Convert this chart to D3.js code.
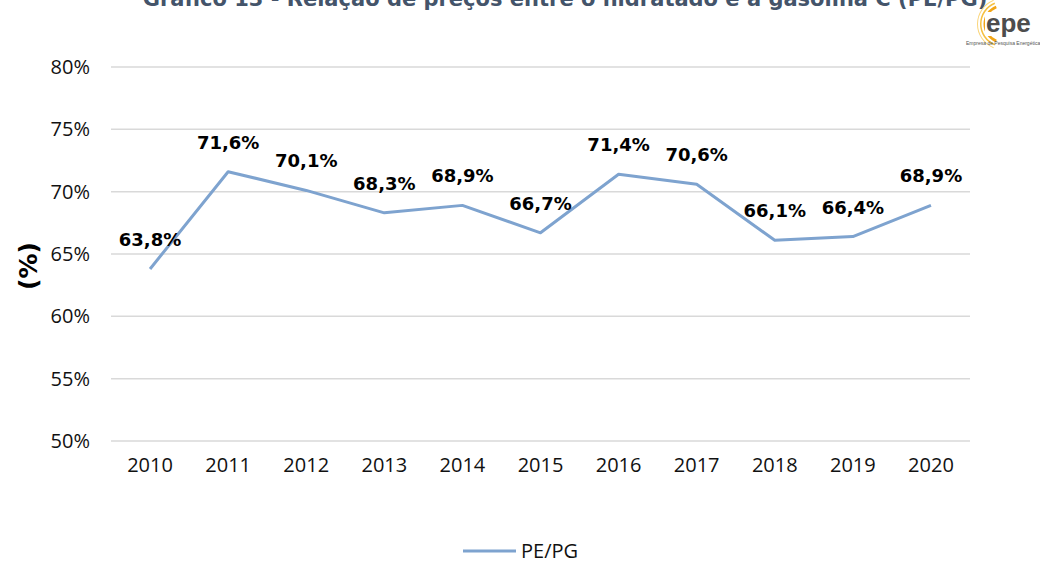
<!DOCTYPE html>
<html>
<head>
<meta charset="utf-8">
<script src="https://cdn.jsdelivr.net/npm/d3@7"></script>
<style>
  html, body { margin: 0; padding: 0; background: #fff; }
  svg { display: block; }
</style>
</head>
<body>
<svg id="chart" width="1040" height="563"></svg>
<script>
const years = ["2010", "2011", "2012", "2013", "2014", "2015", "2016", "2017", "2018", "2019", "2020"];
const pePg = [63.8, 71.6, 70.1, 68.3, 68.9, 66.7, 71.4, 70.6, 66.1, 66.4, 68.9];
const yTicks = [50, 55, 60, 65, 70, 75, 80];
const seriesName = "PE/PG";
const title = "Gráfico 13 - Relação de preços entre o hidratado e a gasolina C (PE/PG)";

const svg = d3.select("#chart");
const margin = { top: 67, right: 70, bottom: 122, left: 111 };
const width = 1040, height = 563;
const w = width - margin.left - margin.right;
const h = height - margin.top - margin.bottom;

const x = d3.scaleBand().domain(years).range([0, w]);
const y = d3.scaleLinear().domain([50, 80]).range([h, 0]);
const lineColor = "#7ea3cf";
const font = "'Open Sans', sans-serif";
const boldFont = "'DejaVu Sans', Verdana, sans-serif";

// title (clipped at top as in the original)
svg.append("text")
  .attr("x", 565).attr("y", 6)
  .attr("text-anchor", "middle")
  .attr("font-family", boldFont)
  .attr("font-weight", "bold")
  .attr("font-size", 21)
  .attr("fill", "#44546a")
  .text(title);

const g = svg.append("g").attr("transform", `translate(${margin.left},${margin.top})`);

// gridlines
g.append("g")
  .selectAll("line")
  .data(yTicks)
  .join("line")
  .attr("x1", 0).attr("x2", w)
  .attr("y1", d => y(d)).attr("y2", d => y(d))
  .attr("stroke", "#d9d9d9")
  .attr("stroke-width", 1.5);

// y axis labels
const yAxis = g.append("g")
  .call(d3.axisLeft(y).tickValues(yTicks).tickSize(0).tickPadding(21).tickFormat(d => d + "%"));
yAxis.select(".domain").remove();
yAxis.selectAll("text")
  .attr("font-family", font)
  .attr("font-size", 20)
  .attr("fill", "#111");

// x axis labels
const xAxis = g.append("g")
  .attr("transform", `translate(0,${h})`)
  .call(d3.axisBottom(x).tickSize(0).tickPadding(17));
xAxis.select(".domain").remove();
xAxis.selectAll("text")
  .attr("font-family", font)
  .attr("font-size", 20)
  .attr("fill", "#111");

// y axis title
svg.append("text")
  .attr("transform", "translate(37,266) rotate(-90)")
  .attr("text-anchor", "middle")
  .attr("font-family", boldFont)
  .attr("font-weight", "bold")
  .attr("font-size", 25)
  .attr("fill", "#000")
  .text("(%)");

// line
const line = d3.line()
  .x((d, i) => x(years[i]) + x.bandwidth() / 2)
  .y(d => y(d));

g.append("path")
  .datum(pePg)
  .attr("fill", "none")
  .attr("stroke", lineColor)
  .attr("stroke-width", 3)
  .attr("stroke-linejoin", "round")
  .attr("d", line);

// data labels
g.append("g")
  .selectAll("text")
  .data(pePg)
  .join("text")
  .attr("x", (d, i) => x(years[i]) + x.bandwidth() / 2)
  .attr("y", d => y(d) - 23)
  .attr("text-anchor", "middle")
  .attr("font-family", boldFont)
  .attr("font-weight", "bold")
  .attr("font-size", 18)
  .attr("fill", "#000")
  .text(d => d.toFixed(1).replace(".", ",") + "%");

// legend
const lg = svg.append("g").attr("transform", "translate(463,551)");
lg.append("line")
  .attr("x1", 0).attr("x2", 53)
  .attr("stroke", lineColor).attr("stroke-width", 3);
lg.append("text")
  .attr("x", 58).attr("y", 7)
  .attr("font-family", font)
  .attr("font-size", 20)
  .attr("fill", "#111")
  .text(seriesName);

// epe logo
const logo = svg.append("g").attr("transform", "translate(1003,24)");
const arc = d3.arc();
[[17, 19.5, "#f2a516"], [21.5, 23, "#f6c040"], [25, 26, "#fad57a"]].forEach(([r0, r1, c]) => {
  logo.append("path")
    .attr("d", arc({ innerRadius: r0, outerRadius: r1, startAngle: -Math.PI * 0.88, endAngle: -Math.PI * 0.12 }))
    .attr("fill", c);
});
logo.append("rect")
  .attr("x", -18).attr("y", -12).attr("width", 56).attr("height", 24)
  .attr("fill", "#fff");
logo.append("text")
  .attr("x", -17).attr("y", 8)
  .attr("font-family", "'Liberation Sans', Arial, sans-serif")
  .attr("font-weight", "bold")
  .attr("font-size", 26)
  .attr("fill", "#4d4d4d")
  .text("epe");
logo.append("text")
  .attr("x", -37).attr("y", 21)
  .attr("font-family", "'Liberation Sans', Arial, sans-serif")
  .attr("font-size", 5)
  .attr("fill", "#555")
  .text("Empresa de Pesquisa Energética");
</script>
</body>
</html>
